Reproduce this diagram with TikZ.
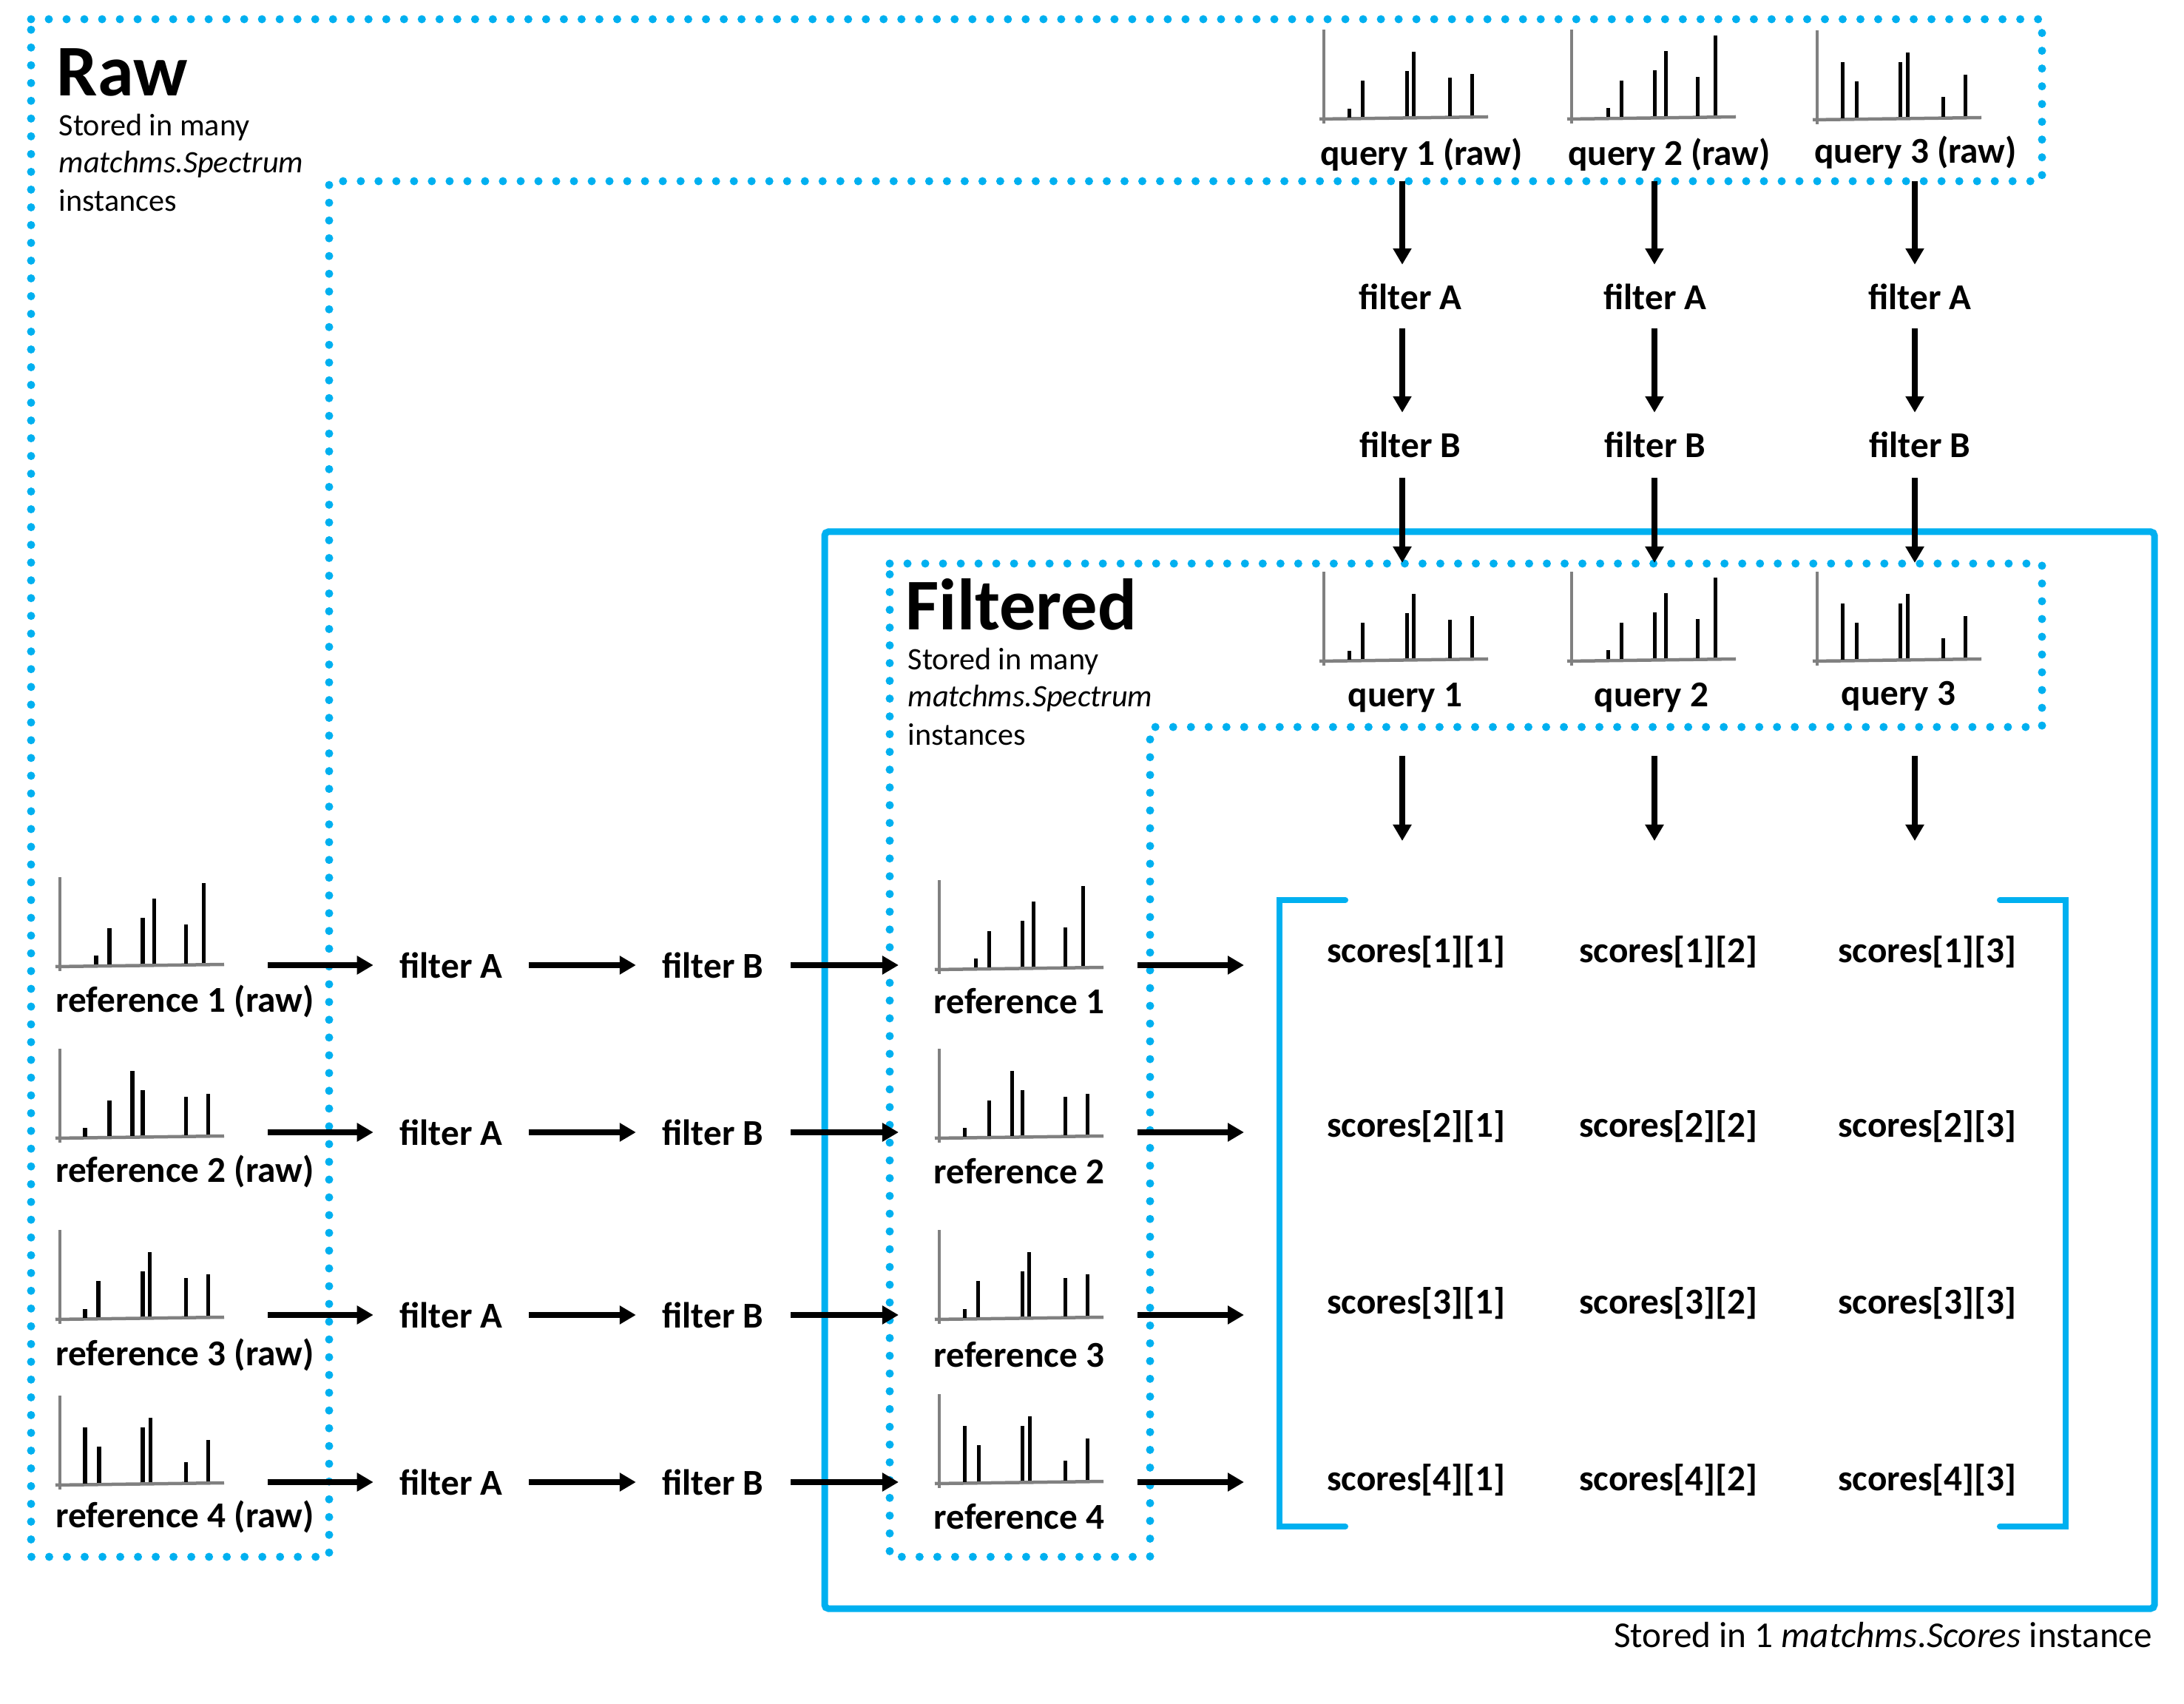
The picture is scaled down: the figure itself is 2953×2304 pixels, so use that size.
\documentclass[tikz,border=0pt]{standalone}
\usepackage{fontspec}
\setmainfont{Carlito}
\usetikzlibrary{arrows.meta}
\definecolor{mblue}{HTML}{00B0F0}
\definecolor{axgrey}{HTML}{808080}
\def\SA{49/15,67/52,112/66,127/92,170/57,194/113}
\def\SB{34/14,67/51,98/91,112/65,170/56,200/60}
\def\SC{34/14,52/52,112/65,121/91,170/56,200/61}
\def\SD{34/78,53/52,112/78,122/91,170/31,200/61}
\tikzset{
  spec/.pic={
    \draw[axgrey, line width=0.045cm] (0,6) -- (0,-121);
    \draw[axgrey, line width=0.045cm] (-6,0) -- (222,-3);
    \foreach \x/\h in #1 {\draw[black, line width=0.05cm] (\x,{-0.0135*\x-2}) -- (\x,-\h);}
  }
}
\begin{document}
\begin{tikzpicture}[x=0.01cm,y=-0.01cm,
  lbl/.style={font=\fontsize{14}{17}\selectfont\bfseries, inner sep=0pt},
  note/.style={font=\fontsize{12}{14.5}\selectfont, inner sep=0pt, anchor=base west},
  bigtitle/.style={font=\fontsize{28}{30}\selectfont\bfseries, inner sep=0pt, anchor=base west},
  arr/.style={line width=0.08cm, -{Triangle[length=0.22cm,width=0.24cm]}},
  harr/.style={arr, shorten <=0.35cm, shorten >=0.35cm},
  dotbox/.style={mblue, line width=0.11cm, line cap=round, dash pattern=on 0pt off 0.24cm},
  solidbox/.style={mblue, line width=0.09cm, rounded corners=0.05cm},
  bracket/.style={mblue, line width=0.08cm, line cap=round}
]
\useasboundingbox[fill=white] (0,0) rectangle (2953,2304);

% regions
\draw[dotbox] (42,26) -- (2761,26) -- (2761,245) -- (445,245) -- (445,2105) -- (42,2105) -- cycle;
\draw[solidbox] (1115,719) rectangle (2913,2175);
\draw[dotbox] (1203,762) -- (2761,762) -- (2761,983) -- (1555,983) -- (1555,2105) -- (1203,2105) -- cycle;

% titles
\node[bigtitle] (rawt) at (76,130) {Raw};
\node[note] (rawn1) at (79,184) {Stored in many};
\node[note] (rawn2) at (79,234) {\itshape matchms.Spectrum};
\node[note] (rawn3) at (79,286) {instances};
\node[bigtitle] (filt) at (1224,852) {Filtered};
\node[note] (filn1) at (1227,906) {Stored in many};
\node[note] (filn2) at (1227,956) {\itshape matchms.Spectrum};
\node[note] (filn3) at (1227,1008) {instances};
\node[font=\fontsize{14}{17}\selectfont, inner sep=0pt, anchor=east] (scnote) at (2911,2211) {Stored in 1 \textit{matchms.Scores} instance};

% raw query spectra
\pic at (1790,161) {spec=\SC};
\pic at (2125,161) {spec=\SA};
\pic at (2457,162) {spec=\SD};
\node[lbl] (q1r) at (1922,209) {query 1 (raw)};
\node[lbl] (q2r) at (2257,209) {query 2 (raw)};
\node[lbl] (q3r) at (2590,206) {query 3 (raw)};

% filtered query spectra
\pic at (1790,894) {spec=\SC};
\pic at (2125,894) {spec=\SA};
\pic at (2457,894) {spec=\SD};
\node[lbl] (q1f) at (1900,943) {query 1};
\node[lbl] (q2f) at (2233,943) {query 2};
\node[lbl] (q3f) at (2567,941) {query 3};

% query filter columns
\foreach \i/\x/\tx in {1/1896/1907, 2/2237/2238, 3/2589/2596} {
  \coordinate (qs\i) at (\x,245);
  \node[lbl] (qa\i) at (\tx,401) {filter A};
  \node[lbl] (qb\i) at (\tx,601) {filter B};
  \coordinate (qe\i) at (\x,761);
  \draw[arr, shorten >=0.25cm] (qs\i) -- (qs\i |- qa\i.north);
  \draw[arr, shorten <=0.25cm, shorten >=0.25cm] (qs\i |- qa\i.south) -- (qs\i |- qb\i.north);
  \draw[arr, shorten <=0.27cm] (qs\i |- qb\i.south) -- (qe\i);
  \coordinate (ss\i) at (\x,1022);
  \coordinate (se\i) at (\x,1137);
  \draw[arr] (ss\i) -- (se\i);
}

% reference spectra
\pic at (81,1307) {spec=\SA};
\pic at (81,1539) {spec=\SB};
\pic at (81,1784) {spec=\SC};
\pic at (81,2008) {spec=\SD};
\pic at (1270,1311) {spec=\SA};
\pic at (1270,1539) {spec=\SB};
\pic at (1270,1784) {spec=\SC};
\pic at (1270,2006) {spec=\SD};
\foreach \i/\y/\ly in {1/1305/1354, 2/1531/1584, 3/1778/1832, 4/2004/2051} {
  \node[lbl] (rr\i) at (250,\ly) {reference \i\ (raw)};
  \node[lbl] (rf\i) at (1378,\ly) {reference \i};
  \coordinate (rs\i) at (362,\y);
  \node[lbl] (fa\i) at (610,\y) {filter A};
  \node[lbl] (fb\i) at (964,\y) {filter B};
  \coordinate (re\i) at (1215,\y);
  \coordinate (ms\i) at (1538,\y);
  \coordinate (me\i) at (1682,\y);
  \draw[arr, shorten >=0.35cm] (rs\i) -- (fa\i.west);
  \draw[harr] (fa\i.east) -- (fb\i.west);
  \draw[arr, shorten <=0.36cm] (fb\i.east) -- (re\i);
  \draw[arr] (ms\i) -- (me\i);
}

% score matrix
\draw[bracket] (1819,1217) -- (1730,1217) -- (1730,2064) -- (1819,2064);
\draw[bracket] (2704,1217) -- (2793,1217) -- (2793,2064) -- (2704,2064);
\foreach \r/\y in {1/1287, 2/1523, 3/1762, 4/2001} {
  \foreach \c/\x in {1/1915, 2/2256, 3/2606} {
    \node[lbl] (s\r\c) at (\x,\y) {scores[\r][\c]};
  }
}
\end{tikzpicture}
\end{document}
